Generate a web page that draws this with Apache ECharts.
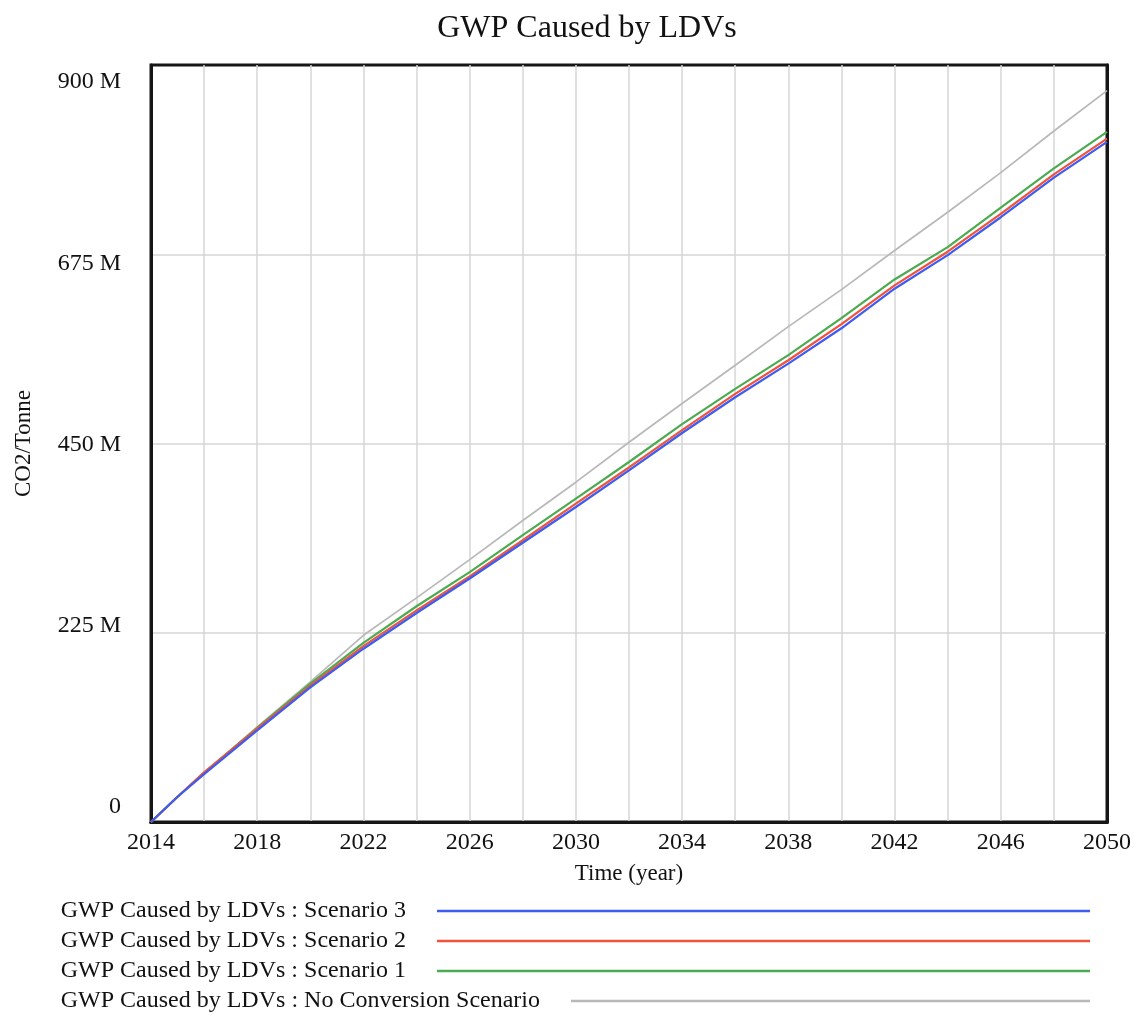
<!DOCTYPE html>
<html>
<head>
<meta charset="utf-8">
<script src="https://cdn.jsdelivr.net/npm/echarts@6/dist/echarts.min.js"></script>
<style>
  html, body { margin: 0; padding: 0; background: #ffffff; }
  #chart { width: 1134px; height: 1017px; }
</style>
</head>
<body>
<div id="chart"></div>
<script>
// Simulation years (x) and cumulative GWP in million tonnes CO2 (y)
const years = [2014, 2015, 2016, 2018, 2020, 2022, 2024, 2026, 2028, 2030,
               2032, 2034, 2036, 2038, 2040, 2042, 2044, 2046, 2048, 2050];

const scenario3 = [0, 30, 57, 109, 160, 206, 248.5, 289.5, 332, 374.5,
                   418, 462.5, 505, 545, 587, 634, 674, 719, 766, 808.5];
const scenario2 = [0, 30, 59, 111, 162, 209, 251.5, 292, 335, 378.5,
                   421.5, 466, 509, 549, 592, 638, 678, 723, 770, 812.5];
const scenario1 = [0, 30, 58.5, 112, 164.5, 213, 256.5, 297, 341, 384.5,
                   428, 473, 515, 555, 599, 645, 683.5, 730.5, 777, 820.5];
const noConversion = [0, 30, 58, 113, 166.5, 222, 266.5, 312, 358.5, 404,
                      451.5, 497.5, 543, 589, 633, 679.5, 725, 772, 821.5, 869.5];

const seriesNames = [
  'GWP Caused by LDVs : Scenario 3',
  'GWP Caused by LDVs : Scenario 2',
  'GWP Caused by LDVs : Scenario 1',
  'GWP Caused by LDVs : No Conversion Scenario'
];
const seriesColors = ['#3d5cf2', '#f0523c', '#4caa50', '#b8b8b8'];
const seriesValues = [scenario3, scenario2, scenario1, noConversion];

const yTicks = [0, 225, 450, 675, 900];
const xMin = 2014, xMax = 2050, xGridStep = 2, xLabelStep = 4;

const FONT = '"Liberation Serif", "Times New Roman", serif';
const INK = '#111111';
const FRAME = '#161616';
const GRID = '#d6d6d6';

// Tick labels on the value axis sit slightly inside the frame:
// top label pushed down, bottom label pushed up.
const yRich = {};
yTicks.forEach(v => {
  const off = -15 + 32 * v / yTicks[yTicks.length - 1];
  yRich['t' + v] = {
    fontFamily: FONT,
    fontSize: 24,
    color: INK,
    padding: off >= 0 ? [2 * off, 0, 0, 0] : [0, 0, -2 * off, 0]
  };
});

const chart = echarts.init(document.getElementById('chart'), null, { renderer: 'canvas' });

// Draw grey first so the coloured scenarios sit on top of it
const drawOrder = [3, 2, 1, 0];
const series = drawOrder.map(i => ({
  name: seriesNames[i],
  type: 'line',
  symbol: 'none',
  smooth: false,
  data: years.map((y, k) => [y, seriesValues[i][k]]),
  lineStyle: { color: seriesColors[i], width: i === 3 ? 1.7 : 2.2 },
  itemStyle: { color: seriesColors[i] },
  emphasis: { disabled: true }
}));

const rowCenters = [911, 941, 971, 1001];
const legendRight = 44;
const legends = seriesNames.map((name, i) => ({
  data: [name],
  right: legendRight,
  top: rowCenters[i] - 12,
  align: 'right',
  orient: 'horizontal',
  padding: 0,
  icon: 'rect',
  itemWidth: i === 3 ? 519 : 653,
  itemHeight: 2.5,
  selectedMode: false,
  textStyle: {
    fontFamily: FONT,
    fontSize: 24,
    color: INK,
    padding: [0, 26, 0, 0]
  }
}));

const gridLine = { show: true, showMinLine: false, showMaxLine: false, lineStyle: { color: GRID, width: 1.5 } };
const frameLine = { show: true, lineStyle: { color: FRAME, width: 3 } };

chart.setOption({
  animation: false,
  backgroundColor: '#ffffff',
  title: {
    text: 'GWP Caused by LDVs',
    left: 587,
    top: 13,
    textAlign: 'center',
    padding: 0,
    textStyle: { fontFamily: FONT, fontSize: 32, fontWeight: 'normal', color: INK }
  },
  legend: legends,
  grid: {
    left: 151,
    right: 26,
    top: 65,
    bottom: 195,
    show: true,
    borderColor: FRAME,
    borderWidth: 3,
    backgroundColor: 'transparent'
  },
  xAxis: [{
    type: 'value',
    position: 'bottom',
    min: xMin,
    max: xMax,
    interval: xGridStep,
    name: 'Time (year)',
    nameLocation: 'middle',
    nameGap: 40,
    nameTextStyle: { fontFamily: FONT, fontSize: 23, color: INK },
    axisLine: frameLine,
    axisTick: { show: false },
    axisLabel: {
      margin: 9,
      fontFamily: FONT,
      fontSize: 24,
      color: INK,
      formatter: v => ((v - xMin) % xLabelStep === 0 ? String(v) : '')
    },
    splitLine: gridLine
  }, {
    // top edge of the frame
    type: 'value',
    position: 'top',
    min: xMin,
    max: xMax,
    interval: xGridStep,
    axisLine: frameLine,
    axisTick: { show: false },
    axisLabel: { show: false },
    splitLine: { show: false }
  }],
  yAxis: [{
    type: 'value',
    position: 'left',
    min: yTicks[0],
    max: yTicks[yTicks.length - 1],
    interval: yTicks[1] - yTicks[0],
    name: 'CO2/Tonne',
    nameLocation: 'middle',
    nameGap: 116,
    nameRotate: 90,
    nameTextStyle: { fontFamily: FONT, fontSize: 23, color: INK },
    axisLine: frameLine,
    axisTick: { show: false },
    axisLabel: {
      margin: 30,
      fontFamily: FONT,
      fontSize: 24,
      color: INK,
      formatter: v => (v === 0 ? '{t0|0}' : '{t' + v + '|' + v + ' M}'),
      rich: yRich
    },
    splitLine: gridLine
  }, {
    // right edge of the frame
    type: 'value',
    position: 'right',
    min: yTicks[0],
    max: yTicks[yTicks.length - 1],
    interval: yTicks[1] - yTicks[0],
    axisLine: frameLine,
    axisTick: { show: false },
    axisLabel: { show: false },
    splitLine: { show: false }
  }],
  series: series
});
</script>
</body>
</html>
